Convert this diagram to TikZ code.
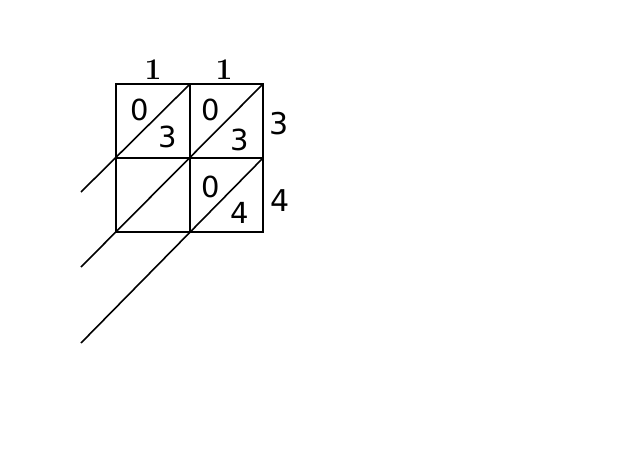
\documentclass[tikz,border=0pt]{standalone}
\usepackage{fontspec}
\newfontfamily\cellfont{DejaVu Sans}
\usetikzlibrary{positioning}

\begin{document}
\begin{tikzpicture}[
  x=0.5pt,y=-0.5pt,
  gridline/.style={line width=0.8pt,draw=black},
  celldigit/.style={font=\cellfont\fontsize{14.5}{16}\selectfont,inner sep=0pt},
  sidedigit/.style={font=\cellfont\fontsize{15}{17}\selectfont,inner sep=0pt},
  topdigit/.style={font=\bfseries\fontsize{15}{17}\selectfont,inner sep=0pt}
]
\useasboundingbox (0,0) rectangle (620,465);
% grid corners
\coordinate (a0) at (116,84);  \coordinate (a1) at (190,84);  \coordinate (a2) at (263,84);
\coordinate (b0) at (116,158); \coordinate (b1) at (190,158); \coordinate (b2) at (263,158);
\coordinate (c0) at (116,232); \coordinate (c1) at (190,232); \coordinate (c2) at (263,232);
% free ends of the diagonals
\coordinate (e1) at (81,192);
\coordinate (e2) at (81,267);
\coordinate (e3) at (81,343);

\draw[gridline] (a0) rectangle (c2);
\draw[gridline] (a1) -- (c1);
\draw[gridline] (b0) -- (b2);
\draw[gridline] (a1) -- (e1);
\draw[gridline] (a2) -- (e2);
\draw[gridline] (b2) -- (e3);

% factors
\node[topdigit] (t1) at (153,70) {1};
\node[topdigit] (t2) at (224,70) {1};
\node[sidedigit] (s1) at (279,124) {3};
\node[sidedigit] (s2) at (280,201) {4};

% partial products
\node[celldigit] (p11t) at (140,110) {0};
\node[celldigit] (p11u) at (168,137) {3};
\node[celldigit] (p12t) at (211,110) {0};
\node[celldigit] (p12u) at (240,140) {3};
\node[celldigit] (p22t) at (211,187) {0};
\node[celldigit] (p22u) at (240,213) {4};
\end{tikzpicture}
\end{document}
